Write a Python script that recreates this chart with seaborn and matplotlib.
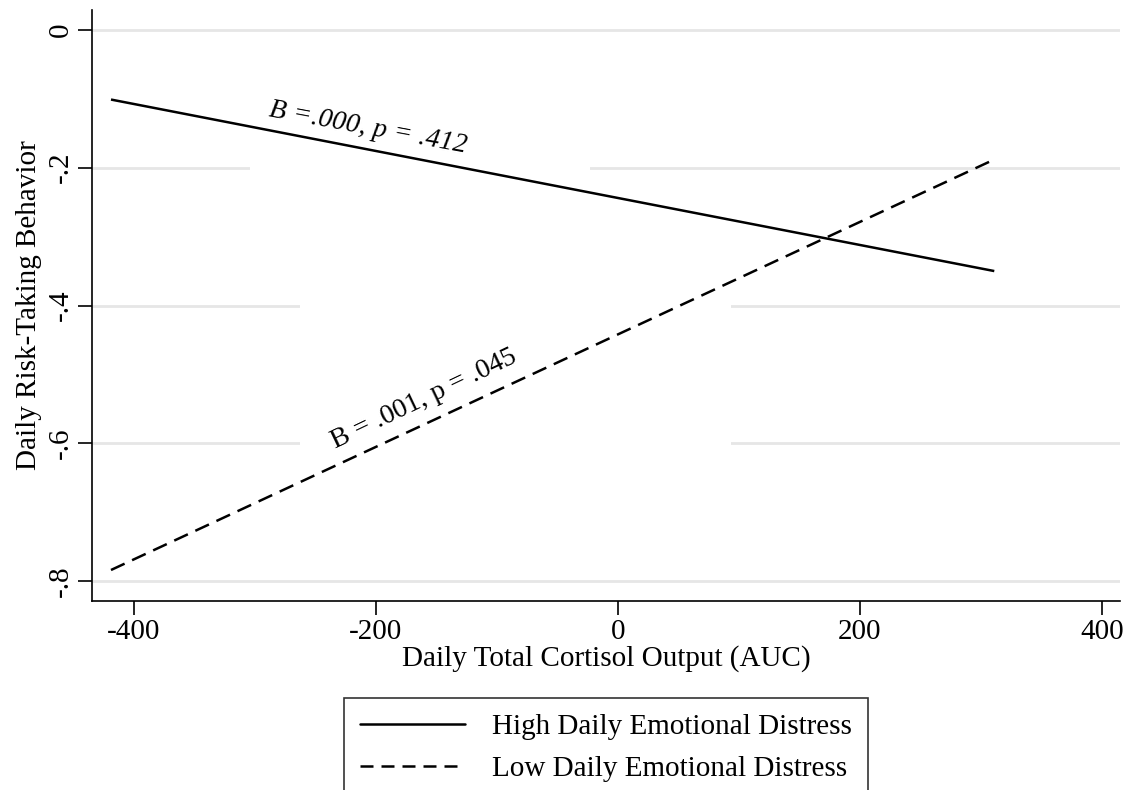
import pandas as pd
import matplotlib
matplotlib.use("Agg")
import matplotlib.pyplot as plt
import seaborn as sns
from matplotlib.patches import Rectangle
from matplotlib.lines import Line2D

# Simple-slopes endpoints
cortisol = [-419, 311]
high_distress = [-0.101, -0.350]
low_distress = [-0.784, -0.188]
groups = ["High Daily Emotional Distress", "Low Daily Emotional Distress"]
x_ticks = [-400, -200, 0, 200, 400]
y_ticks = [0, -0.2, -0.4, -0.6, -0.8]
y_tick_labels = ["0", "-.2", "-.4", "-.6", "-.8"]

sns.set_theme(style="white")
plt.rcParams["font.family"] = ["Liberation Serif", "DejaVu Serif"]
plt.rcParams["text.color"] = "black"

df = pd.DataFrame({
    "cortisol": cortisol * 2,
    "risk": high_distress + low_distress,
    "group": [groups[0]] * 2 + [groups[1]] * 2,
})

fig = plt.figure(figsize=(11.28, 7.9), dpi=100)
ax = fig.add_axes([92 / 1128, 1 - 601 / 790, (1120 - 92) / 1128, (601 - 10) / 790])

# light gridlines, partly hidden behind the annotation boxes
for yv in y_ticks:
    ax.axhline(yv, color="#e6e6e6", lw=2.0, zorder=0.5)
ax.add_patch(Rectangle((-304, -0.23), 281, 0.1, facecolor="white", edgecolor="none", zorder=0.8))
ax.add_patch(Rectangle((-263, -0.63), 356, 0.26, facecolor="white", edgecolor="none", zorder=0.8))

sns.lineplot(data=df, x="cortisol", y="risk", hue="group", style="group",
             palette=["black", "black"], dashes=[(1, 0), (6, 3.3)],
             linewidth=1.8, legend=False, ax=ax, zorder=2)

ax.text(-207, -0.142, "B =.000, p = .412", style="italic", fontsize=20, color="black",
        rotation=-10.5, ha="center", va="center", rotation_mode="anchor")
ax.text(-160, -0.536, "B = .001, p = .045", fontsize=20, color="black",
        rotation=25.5, ha="center", va="center", rotation_mode="anchor")

ax.set_xlim(-434.7, 414.9)
ax.set_ylim(-0.829, 0.029)
ax.set_xticks(x_ticks)
ax.set_xticklabels([str(v) for v in x_ticks])
ax.set_yticks(y_ticks)
ax.set_yticklabels(y_tick_labels, rotation=90, va="center")
ax.tick_params(axis="both", direction="out", length=10, width=1.2, color="black",
               labelsize=21, labelcolor="black", bottom=True, left=True)
ax.tick_params(axis="x", pad=3)
ax.tick_params(axis="y", pad=3)

for side in ["top", "right"]:
    ax.spines[side].set_visible(False)
for side in ["left", "bottom"]:
    ax.spines[side].set_color("black")
    ax.spines[side].set_linewidth(1.2)

ax.set_xlabel("Daily Total Cortisol Output (AUC)", fontsize=21, color="black", labelpad=0)
ax.set_ylabel("Daily Risk-Taking Behavior", fontsize=21, color="black", labelpad=4)

# legend below the axes, cut off by the figure edge as in the original
handles = [
    Line2D([], [], color="black", lw=1.8),
    Line2D([], [], color="black", lw=1.8, dashes=(5.2, 3.2)),
]
leg = ax.legend(handles, groups, loc="upper center", bbox_to_anchor=(0.5, -0.164),
                borderaxespad=0, fontsize=21, frameon=True, fancybox=False,
                handlelength=3.6, handletextpad=0.9, labelspacing=0.52, borderpad=0.55)
leg.get_frame().set_edgecolor("black")
leg.get_frame().set_linewidth(1.2)

fig.savefig("out.png", dpi=100)
